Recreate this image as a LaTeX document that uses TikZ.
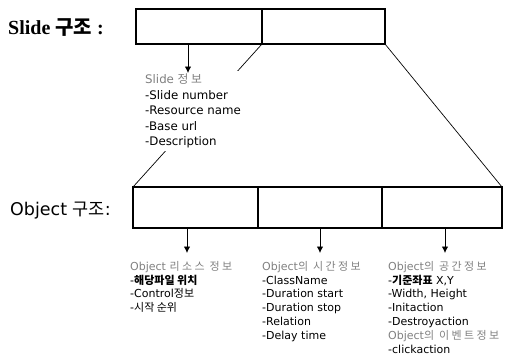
\documentclass[tikz,border=0pt]{standalone}
\usepackage{fontspec}
\usetikzlibrary{arrows.meta}
\setmainfont{DejaVu Sans}
\newfontfamily\kr{Noto Sans CJK KR}
\newfontfamily\krw[LetterSpace=22]{Noto Sans CJK KR}
\newfontfamily\ser{Liberation Serif}
\begin{document}
\begin{tikzpicture}[x=1pt,y=-1pt,
  cell/.style={draw=none,inner sep=0pt,outer sep=0pt,anchor=north west},
  frame/.style={line width=1.8pt},
  divider/.style={line width=1.2pt},
  link/.style={line width=0.7pt},
  arr/.style={line width=0.8pt,-{Latex[length=6.5pt,width=6.5pt]}},
  txt/.style={anchor=north west,align=left,inner sep=0pt,font=\fontsize{11.8}{15.5}\selectfont},
  otxt/.style={anchor=north west,align=left,inner sep=0pt,font=\fontsize{11}{13.8}\selectfont},
  title/.style={anchor=west,inner sep=0pt}]
\useasboundingbox (0,0) rectangle (512,359);
% Slide structure cells
\node[cell,minimum width=126pt,minimum height=35pt] (s1) at (136,9) {};
\node[cell,minimum width=123pt,minimum height=35pt] (s2) at (262,9) {};
% Object structure cells
\node[cell,minimum width=125pt,minimum height=41pt] (o1) at (133,187) {};
\node[cell,minimum width=124pt,minimum height=41pt] (o2) at (258,187) {};
\node[cell,minimum width=120pt,minimum height=41pt] (o3) at (382,187) {};
% connecting lines
\draw[link] (s1.south east) -- (o1.north west);
\draw[link] (s2.south east) -- (o3.north east);
% frames
\draw[frame] (s1.north west) rectangle (s2.south east);
\draw[divider] (s1.north east) -- (s1.south east);
\draw[frame] (o1.north west) rectangle (o3.south east);
\draw[divider] (o1.north east) -- (o1.south east);
\draw[divider] (o2.north east) -- (o2.south east);
% titles
\node[title,font=\fontsize{20}{22}\selectfont] (t1) at (8,28) {\ser\bfseries Slide {\kr\bfseries 구조} :};
\node[title,font=\fontsize{17.5}{20}\selectfont] (t2) at (10,211) {Object {\kr 구조}:};
% slide info
\node[txt,fill=white,inner xsep=2pt,inner ysep=3pt] (si) at (143,71)
  {{\color{black!50}Slide {\krw 정보}}\\-Slide number\\-Resource name\\-Base url\\-Description};
\coordinate (sa) at (188,73);
\draw[arr] (sa |- s1.south) -- (sa);
% object info
\node[otxt] (c1) at (130,261)
  {{\color{black!50}Object {\krw 리소스 정보}}\\-{\kr\bfseries 해당파일 위치}\\-Control{\kr 정보}\\-{\kr 시작 순위}};
\node[otxt] (c2) at (262,261)
  {{\color{black!50}Object{\krw 의 시간정보}}\\-ClassName\\-Duration start\\-Duration stop\\-Relation\\-Delay time};
\node[otxt] (c3) at (388,261)
  {{\color{black!50}Object{\krw 의 공간정보}}\\-{\kr\bfseries 기준좌표} X,Y\\-Width, Height\\-Initaction\\-Destroyaction\\{\color{black!50}Object{\krw 의 이벤트정보}}\\-clickaction};
\coordinate (a1) at (187,253);
\coordinate (a2) at (320,253);
\coordinate (a3) at (445,253);
\draw[arr] (a1 |- o1.south) -- (a1);
\draw[arr] (a2 |- o2.south) -- (a2);
\draw[arr] (a3 |- o3.south) -- (a3);
\end{tikzpicture}
\end{document}
